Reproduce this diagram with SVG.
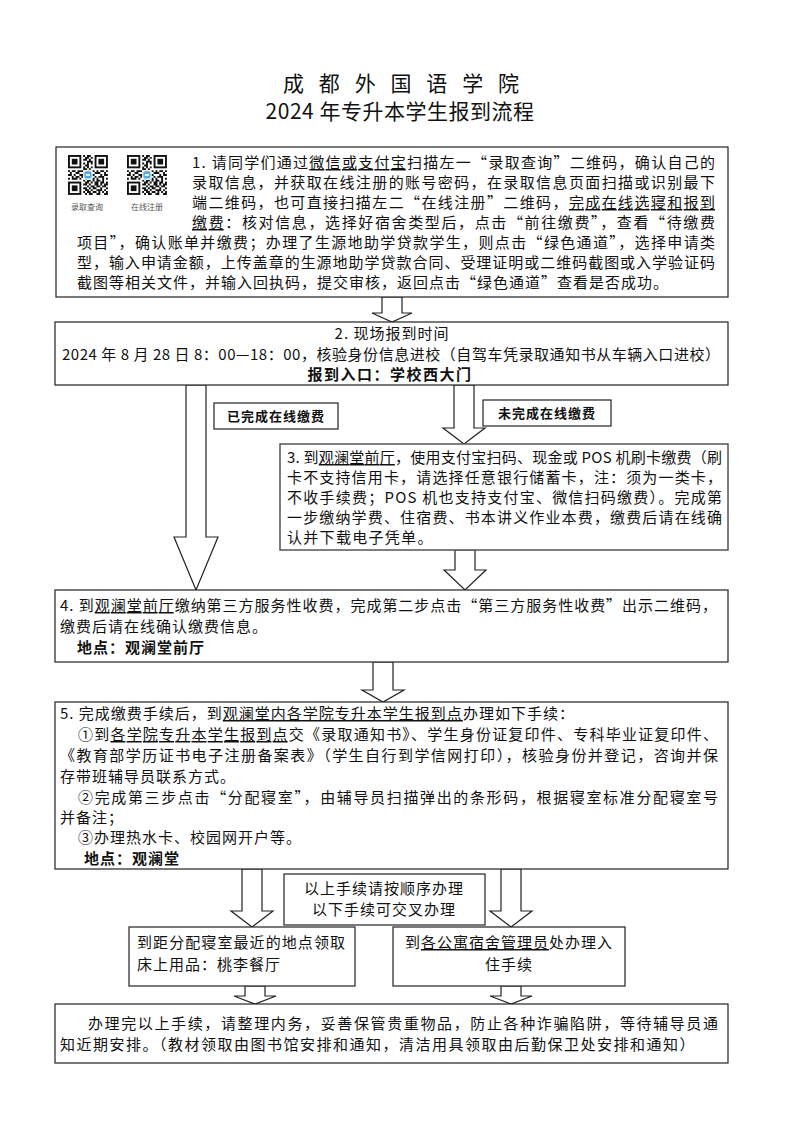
<svg xmlns="http://www.w3.org/2000/svg" width="800" height="1131" viewBox="0 0 800 1131">
<style>
.t{font-family:"Noto Sans CJK SC","Noto Sans",sans-serif;font-size:15px;fill:#111}
.b{font-weight:bold}
.box{fill:#fff;stroke:#222;stroke-width:1.2}
.arr{fill:#fff;stroke:#222;stroke-width:1.2}
.u{text-decoration:underline}
.small{font-size:8px;fill:#555}
</style>
<defs>
<g id="fp"><rect x="0" y="0" width="7" height="7" fill="#111"/><rect x="1" y="1" width="5" height="5" fill="#fff"/><rect x="2" y="2" width="3" height="3" fill="#111"/></g>
<g id="qr">
<rect x="-0.5" y="-0.5" width="22" height="22" fill="#fff"/>
<use href="#fp"/><use href="#fp" x="14"/><use href="#fp" y="14"/>
<path fill="#111" d="M8 0h1v1h-1zM10 0h2v1h-2zM9 1h2v1h-2zM12 1h1v1h-1zM8 2h2v1h-2zM11 2h1v1h-1zM10 3h3v1h-3zM8 4h1v1h-1zM10 4h1v1h-1zM12 4h1v1h-1zM9 5h2v1h-2zM8 6h1v1h-1zM10 6h1v1h-1zM12 6h1v1h-1zM8 7h2v1h-2zM11 7h1v1h-1z
M0 8h1v1h-1zM2 8h2v1h-2zM5 8h3v1h-3zM10 8h1v1h-1zM12 8h2v1h-2zM15 8h1v1h-1zM17 8h2v1h-2zM20 8h1v1h-1z
M1 9h1v1h-1zM4 9h2v1h-2zM8 9h2v1h-2zM11 9h1v1h-1zM14 9h3v1h-3zM19 9h1v1h-1z
M0 10h2v1h-2zM3 10h1v1h-1zM6 10h3v1h-3zM10 10h1v1h-1zM12 10h2v1h-2zM17 10h1v1h-1zM19 10h2v1h-2z
M2 11h1v1h-1zM4 11h2v1h-2zM7 11h1v1h-1zM9 11h3v1h-3zM14 11h1v1h-1zM16 11h3v1h-3z
M0 12h1v1h-1zM2 12h3v1h-3zM6 12h1v1h-1zM9 12h1v1h-1zM12 12h2v1h-2zM15 12h1v1h-1zM18 12h1v1h-1zM20 12h1v1h-1z
M8 13h1v1h-1zM10 13h2v1h-2zM13 13h1v1h-1zM15 13h2v1h-2zM18 13h1v1h-1z
M9 14h2v1h-2zM12 14h1v1h-1zM14 14h2v1h-2zM17 14h2v1h-2zM20 14h1v1h-1z
M8 15h2v1h-2zM11 15h1v1h-1zM14 15h2v1h-2zM17 15h1v1h-1zM19 15h2v1h-2z
M10 16h1v1h-1zM12 16h2v1h-2zM15 16h2v1h-2zM18 16h2v1h-2z
M8 17h2v1h-2zM11 17h1v1h-1zM13 17h2v1h-2zM17 17h1v1h-1zM20 17h1v1h-1z
M9 18h2v1h-2zM12 18h1v1h-1zM15 18h3v1h-3zM19 18h1v1h-1z
M8 19h1v1h-1zM10 19h2v1h-2zM13 19h2v1h-2zM16 19h1v1h-1zM18 19h1v1h-1zM20 19h1v1h-1z
M9 20h1v1h-1zM11 20h2v1h-2zM15 20h2v1h-2zM19 20h2v1h-2z"/>
<rect x="8" y="8" width="5" height="5" fill="#fff"/>
<rect x="8.6" y="8.6" width="3.8" height="3.8" rx="0.8" fill="#5aa9d6"/>
<rect x="9.4" y="10" width="2.2" height="1" fill="#e8f4fb"/>
</g>
</defs>
<rect width="800" height="1131" fill="#fff"/>

<g id="title">
<text class="t" x="283" y="91" textLength="236" lengthAdjust="spacing" style="font-size:21px">成 都 外 国 语 学 院</text>
<text class="t" x="400" y="119" text-anchor="middle" style="font-size:21px" letter-spacing="0.5">2024 年专升本学生报到流程</text>
</g>

<g id="connectors">
<path class="arr" d="M382 297H402V313H412L392 322L372 313H382Z"/>
<path class="arr" d="M186 385H206V537H218L196 590L174 537H186Z"/>
<path class="arr" d="M454 385H474V428H485L464 444L443 428H454Z"/>
<path class="arr" d="M455 550H475V570H486L465 590L444 570H455Z"/>
<path class="arr" d="M373 662H393V690H404L383 702L362 690H373Z"/>
<path class="arr" d="M242 869H262V911H273L252 927L231 911H242Z"/>
<path class="arr" d="M501 869H521V911H532L511 927L490 911H501Z"/>
<path class="arr" d="M245 986H265V996H276L255 1004L234 996H245Z"/>
<path class="arr" d="M501 986H521V996H532L511 1004L490 996H501Z"/>
</g>

<g id="node1">
<rect class="box" x="56" y="147" width="672" height="150"/>
<use href="#qr" transform="translate(68,155) scale(1.9)"/>
<use href="#qr" transform="translate(127,155) scale(1.9)"/>
<text class="t small" x="87" y="210" text-anchor="middle">录取查询</text>
<text class="t small" x="147" y="210" text-anchor="middle">在线注册</text>
<text class="t" x="192" y="168" textLength="523" lengthAdjust="spacing">1. 请同学们通过<tspan class="u">微信或支付宝</tspan>扫描左一“录取查询”二维码，确认自己的</text>
<text class="t" x="192" y="188" textLength="523" lengthAdjust="spacing">录取信息，并获取在线注册的账号密码，在录取信息页面扫描或识别最下</text>
<text class="t" x="192" y="208" textLength="523" lengthAdjust="spacing">端二维码，也可直接扫描左二“在线注册”二维码，<tspan class="u">完成在线选寝和报到</tspan></text>
<text class="t" x="192" y="228" textLength="523" lengthAdjust="spacing"><tspan class="u">缴费</tspan>：核对信息，选择好宿舍类型后，点击“前往缴费”，查看“待缴费</text>
<text class="t" x="77" y="248" textLength="638" lengthAdjust="spacing">项目”，确认账单并缴费；办理了生源地助学贷款学生，则点击“绿色通道”，选择申请类</text>
<text class="t" x="77" y="268" textLength="638" lengthAdjust="spacing">型，输入申请金额，上传盖章的生源地助学贷款合同、受理证明或二维码截图或入学验证码</text>
<text class="t" x="77" y="288" letter-spacing="1">截图等相关文件，并输入回执码，提交审核，返回点击“绿色通道”查看是否成功。</text>
</g>

<g id="node2">
<rect class="box" x="55" y="322" width="673" height="63"/>
<text class="t" x="392" y="339" text-anchor="middle" letter-spacing="1">2. 现场报到时间</text>
<text class="t" x="62" y="360" textLength="658" lengthAdjust="spacing">2024 年 8 月 28 日 8：00—18：00，核验身份信息进校（自驾车凭录取通知书从车辆入口进校）</text>
<text class="t b" x="390" y="380" text-anchor="middle" letter-spacing="1.5">报到入口：学校西大门</text>
</g>

<g id="label-paid">
<rect class="box" x="214" y="403" width="124" height="26"/>
<text class="t b" x="276" y="421" text-anchor="middle" style="font-size:13px" letter-spacing="1">已完成在线缴费</text>
</g>
<g id="label-unpaid">
<rect class="box" x="483" y="400" width="128" height="26"/>
<text class="t b" x="547" y="418" text-anchor="middle" style="font-size:13px" letter-spacing="1">未完成在线缴费</text>
</g>

<g id="node3">
<rect class="box" x="280" y="444" width="448" height="106" style="stroke:#555;stroke-width:1.5"/>
<text class="t" x="287" y="463" textLength="435" lengthAdjust="spacing">3. 到<tspan class="u">观澜堂前厅</tspan>，使用支付宝扫码、现金或 POS 机刷卡缴费（刷</text>
<text class="t" x="287" y="483" textLength="435" lengthAdjust="spacing">卡不支持信用卡，请选择任意银行储蓄卡，注：须为一类卡，</text>
<text class="t" x="287" y="503" textLength="435" lengthAdjust="spacing">不收手续费；POS 机也支持支付宝、微信扫码缴费）。完成第</text>
<text class="t" x="287" y="523" textLength="435" lengthAdjust="spacing">一步缴纳学费、住宿费、书本讲义作业本费，缴费后请在线确</text>
<text class="t" x="287" y="543" letter-spacing="1.3">认并下载电子凭单。</text>
</g>

<g id="node4">
<rect class="box" x="55" y="590" width="673" height="72"/>
<text class="t" x="60" y="611" textLength="657" lengthAdjust="spacing">4. 到<tspan class="u">观澜堂前厅</tspan>缴纳第三方服务性收费，完成第二步点击“第三方服务性收费”出示二维码，</text>
<text class="t" x="60" y="632" letter-spacing="1">缴费后请在线确认缴费信息。</text>
<text class="t b" x="77" y="653" letter-spacing="1">地点：观澜堂前厅</text>
</g>

<g id="node5">
<rect class="box" x="55" y="702" width="673" height="167"/>
<text class="t" x="60" y="719" letter-spacing="1">5. 完成缴费手续后，到<tspan class="u">观澜堂内各学院专升本学生报到点</tspan>办理如下手续：</text>
<text class="t" x="78" y="740" textLength="640" lengthAdjust="spacing">①到<tspan class="u">各学院专升本学生报到点</tspan>交《录取通知书》、学生身份证复印件、专科毕业证复印件、</text>
<text class="t" x="60" y="761" textLength="658" lengthAdjust="spacing">《教育部学历证书电子注册备案表》（学生自行到学信网打印），核验身份并登记，咨询并保</text>
<text class="t" x="60" y="782" letter-spacing="1">存带班辅导员联系方式。</text>
<text class="t" x="78" y="803" textLength="640" lengthAdjust="spacing">②完成第三步点击“分配寝室”，由辅导员扫描弹出的条形码，根据寝室标准分配寝室号</text>
<text class="t" x="60" y="823" letter-spacing="1">并备注；</text>
<text class="t" x="78" y="843" letter-spacing="1">③办理热水卡、校园网开户等。</text>
<text class="t b" x="84" y="864" letter-spacing="1">地点：观澜堂</text>
</g>

<g id="note">
<rect class="box" x="284" y="874" width="201" height="51"/>
<text class="t" x="384" y="894" text-anchor="middle" letter-spacing="1">以上手续请按顺序办理</text>
<text class="t" x="384" y="915" text-anchor="middle" letter-spacing="1">以下手续可交叉办理</text>
</g>

<g id="node6">
<rect class="box" x="129" y="927" width="226" height="59"/>
<text class="t" x="137" y="948" textLength="208" lengthAdjust="spacing">到距分配寝室最近的地点领取</text>
<text class="t" x="137" y="970" letter-spacing="1">床上用品：桃李餐厅</text>
</g>

<g id="node7">
<rect class="box" x="393" y="927" width="232" height="59"/>
<text class="t" x="509" y="948" text-anchor="middle" letter-spacing="1">到<tspan class="u">各公寓宿舍管理员</tspan>处办理入</text>
<text class="t" x="509" y="970" text-anchor="middle" letter-spacing="1">住手续</text>
</g>

<g id="node8">
<rect class="box" x="55" y="1004" width="673" height="59"/>
<text class="t" x="88" y="1029" textLength="630" lengthAdjust="spacing">办理完以上手续，请整理内务，妥善保管贵重物品，防止各种诈骗陷阱，等待辅导员通</text>
<text class="t" x="60" y="1050" letter-spacing="1.5">知近期安排。（教材领取由图书馆安排和通知，清洁用具领取由后勤保卫处安排和通知）</text>
</g>
</svg>
